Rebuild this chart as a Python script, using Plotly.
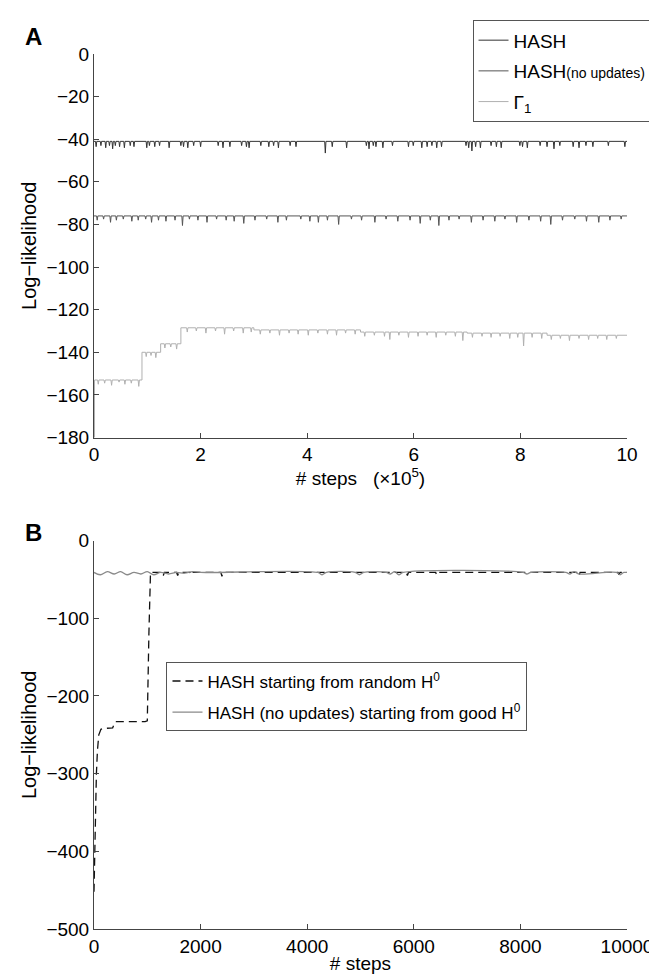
import plotly.graph_objects as go

# ---------------- Panel A data (x in units of 1e5 steps) ----------------
hash_level_x = [0.0]
hash_level_y = [-41]
hash_spike_x = [0.04, 0.13, 0.22, 0.29, 0.35, 0.40, 0.48, 0.57, 0.68, 0.75,
                0.99, 1.04, 1.14, 1.23, 1.41, 1.63, 1.68, 1.76, 1.87, 2.00,
                2.33, 2.42, 2.55, 2.77, 2.86, 2.91, 3.13, 3.28, 3.37, 3.46,
                3.68, 3.79, 4.34, 4.47, 4.74, 5.11, 5.16, 5.24, 5.29, 5.42,
                5.60, 5.90, 5.99, 6.15, 6.25, 6.34, 6.43, 6.52, 6.98, 7.03,
                7.09, 7.16, 7.25, 7.45, 7.55, 7.64, 7.99, 8.04, 8.13, 8.37,
                8.50, 8.63, 8.74, 8.99, 9.10, 9.23, 9.36, 9.65, 9.96]
hash_spike_y = [-43.5, -43, -44, -43, -44.5, -43, -43.5, -44, -43, -43.5,
                -44, -43, -43.5, -43, -44, -43, -43.5, -44, -43, -43.5,
                -43, -44, -43.5, -43, -43.5, -44, -43, -43.5, -43, -44,
                -43, -43.5, -46.5, -43.5, -44, -43, -44.5, -43, -43.5, -44,
                -43, -43.5, -43, -44, -43.5, -43, -44, -43.5, -43, -44,
                -45.5, -43.5, -44, -43, -43.5, -44, -43, -43.5, -44, -43,
                -43.5, -44.5, -43, -43.5, -44, -43, -43.5, -43, -43.5]

noupd_level_x = [0.0]
noupd_level_y = [-76]
noupd_spike_x = [0.06, 0.18, 0.31, 0.42, 0.55, 0.71, 0.83, 0.97, 1.08, 1.21,
                 1.35, 1.52, 1.66, 1.79, 1.95, 2.12, 2.30, 2.48, 2.63, 2.81,
                 3.02, 3.24, 3.45, 3.61, 3.88, 4.05, 4.21, 4.38, 4.59, 4.83,
                 5.02, 5.27, 5.48, 5.70, 5.93, 6.12, 6.31, 6.47, 6.66, 6.85,
                 7.08, 7.30, 7.52, 7.71, 7.93, 8.16, 8.38, 8.57, 8.79, 9.02,
                 9.24, 9.47, 9.68, 9.89]
noupd_spike_y = [-78, -77.5, -79, -78, -77.5, -78.5, -78, -77.5, -79, -78,
                 -78.5, -78, -80.5, -77.5, -78, -79, -77.5, -78, -78.5, -79.5,
                 -78, -77.5, -79, -78, -77.5, -78.5, -79, -78, -80, -77.5,
                 -78, -79, -77.5, -78.5, -78, -79.5, -78, -80.5, -78, -77.5,
                 -79, -78, -78.5, -77.5, -79, -78, -78.5, -80, -78, -77.5,
                 -78.5, -79, -78, -77.5]

gamma_level_x = [0.0, 0.01, 0.90, 1.25, 1.63, 3.0, 5.0, 7.0, 8.5]
gamma_level_y = [-180, -153, -140, -136, -128.5, -129.5, -130.5, -131, -132]
gamma_spike_x = [0.08, 0.20, 0.33, 0.47, 0.58, 0.70, 0.84,
                 0.98, 1.07, 1.16, 1.33, 1.44, 1.55,
                 1.75, 1.92, 2.10, 2.28, 2.45, 2.62, 2.80, 2.95,
                 3.12, 3.30, 3.48, 3.66, 3.83, 4.02, 4.20, 4.38, 4.55, 4.72, 4.90,
                 5.08, 5.26, 5.45, 5.55, 5.72, 5.90, 6.08, 6.25, 6.42, 6.60, 6.78, 6.92,
                 7.10, 7.28, 7.45, 7.62, 7.80, 7.95, 8.06, 8.22, 8.40,
                 8.58, 8.75, 8.92, 9.10, 9.28, 9.45, 9.62, 9.80]
gamma_spike_y = [-155, -154.5, -155.5, -154, -155, -154.5, -156,
                 -142, -141.5, -142.5, -138, -137.5, -138.5,
                 -130.5, -130, -131, -130, -131.5, -130, -131, -130.5,
                 -131.5, -131, -132, -131, -131.5, -132, -131, -131.5, -132, -131, -131.5,
                 -132.5, -132, -132.5, -134, -132, -133, -132.5, -132, -133, -132, -132.5, -134.5,
                 -133, -132.5, -133, -132.5, -133.5, -133, -137, -133, -133.5,
                 -134, -133.5, -134.5, -133.5, -134, -133.5, -134, -133.5]

# ---------------- Panel B data (x in steps) ----------------
rand_x = [0, 8, 18, 30, 45, 65, 90, 130, 170, 350, 400, 960, 1000, 1030, 1060,
          1280, 1300, 1320, 1550, 1570, 1590, 1800, 1820, 1840, 2380, 2400, 2420,
          5860, 5880, 5900, 6410, 6430, 6450, 9080, 9100, 9120, 9830, 9850, 9870, 10000]
rand_y = [-452, -420, -380, -340, -300, -270, -250, -243, -242, -241, -233, -233, -232, -120, -41,
          -41, -45, -41, -41, -45, -41, -41, -44, -41, -41, -46, -41,
          -41, -45, -41, -41, -44, -41, -41, -45, -41, -41, -44, -41, -41]

good_x = [0, 120, 250, 380, 500, 620, 750, 880, 1000, 1120, 1250, 1400, 1550, 1700, 1850, 2000,
          4200, 4280, 4360, 4900, 4980, 5060, 5480, 5560, 5640, 5720, 5800,
          8050, 8120, 8200, 8850, 8930, 9010, 9090, 9800, 9870, 9940, 10000]
good_y = [-41, -44, -40, -43, -40, -44, -41, -43, -40, -44, -41, -43, -41, -42, -40, -41,
          -41, -44, -41, -41, -44, -41, -41, -43, -40, -44, -41,
          -41, -43, -41, -41, -43, -40, -43, -41, -44, -41, -41]


def steps_with_spikes(level_x, level_y, x_end, sx, sy, hw):
    pts = []
    for i, (x0, y0) in enumerate(zip(level_x, level_y)):
        x1 = level_x[i + 1] if i + 1 < len(level_x) else x_end
        pts.append((x0, y0))
        for xs, ys in zip(sx, sy):
            if x0 < xs < x1:
                pts += [(xs - hw, y0), (xs, ys), (xs + hw, y0)]
        pts.append((x1, y0))
    xs_, ys_ = zip(*pts)
    return list(xs_), list(ys_)


FONT = "Liberation Sans, Arial, Helvetica, sans-serif"
NB = "\u00a0"

fig = go.Figure()

hx, hy = steps_with_spikes(hash_level_x, hash_level_y, 10, hash_spike_x, hash_spike_y, 0.012)
nx, ny = steps_with_spikes(noupd_level_x, noupd_level_y, 10, noupd_spike_x, noupd_spike_y, 0.012)
gx, gy = steps_with_spikes(gamma_level_x, gamma_level_y, 10, gamma_spike_x, gamma_spike_y, 0.012)

fig.add_trace(go.Scatter(x=hx, y=hy, mode="lines", name="HASH",
                         line=dict(color="#333333", width=1),
                         xaxis="x", yaxis="y", legend="legend", legendgroup="a1"))
fig.add_trace(go.Scatter(x=nx, y=ny, mode="lines",
                         name="HASH<span style='font-size:14px'>(no updates)</span>",
                         line=dict(color="#555555", width=1),
                         xaxis="x", yaxis="y", legend="legend", legendgroup="a2"))
fig.add_trace(go.Scatter(x=gx, y=gy, mode="lines", name="Γ<sub>1</sub>",
                         line=dict(color="#b0b0b0", width=1),
                         xaxis="x", yaxis="y", legend="legend", legendgroup="a3"))

fig.add_trace(go.Scatter(x=rand_x, y=rand_y, mode="lines",
                         name="HASH starting from random H<sup>0</sup>",
                         line=dict(color="#111111", width=1.3, dash="8px,5px"),
                         xaxis="x2", yaxis="y2", legend="legend2", legendgroup="b1"))
fig.add_trace(go.Scatter(x=good_x, y=good_y, mode="lines",
                         name="HASH (no updates) starting from good H<sup>0</sup>",
                         line=dict(color="#8a8a8a", width=1.3, shape="spline", smoothing=1),
                         xaxis="x2", yaxis="y2", legend="legend2", legendgroup="b2"))

axis_common = dict(showline=True, linecolor="#444", linewidth=1, ticks="inside",
                   ticklen=5, tickcolor="#444", showgrid=False, zeroline=False,
                   mirror=False, tickfont=dict(size=19, color="black", family=FONT))

top_dom = [0.5617, 1.0]
bot_dom = [0.0, 0.4439]

fig.update_layout(
    width=657, height=974,
    margin=dict(l=86, r=27, t=44, b=47),
    paper_bgcolor="white", plot_bgcolor="white",
    font=dict(family=FONT, color="black", size=19),
    xaxis=dict(domain=[0, 1], anchor="y", range=[0, 10], dtick=2,
               title=dict(text="# steps" + NB * 3 + "(×10<sup>5</sup>)", font=dict(size=19), standoff=4),
               **axis_common),
    yaxis=dict(domain=top_dom, anchor="x", range=[-180, 0], dtick=20,
               title=dict(text="Log−likelihood", font=dict(size=20), standoff=4),
               **axis_common),
    xaxis2=dict(domain=[0, 1], anchor="y2", range=[0, 10000], dtick=2000, tickformat="d",
                title=dict(text="# steps", font=dict(size=19), standoff=0),
                **axis_common),
    yaxis2=dict(domain=bot_dom, anchor="x2", range=[-500, 0], dtick=100,
                title=dict(text="Log−likelihood", font=dict(size=20), standoff=4),
                **axis_common),
    legend=dict(x=1.046, xanchor="right", y=1.0385, yanchor="top",
                bordercolor="#555", borderwidth=1, bgcolor="white",
                font=dict(size=19, family=FONT), tracegroupgap=3, itemwidth=30),
    legend2=dict(x=0.136, xanchor="left", y=0.3046, yanchor="top",
                 bordercolor="#555", borderwidth=1, bgcolor="white",
                 font=dict(size=17, family=FONT), tracegroupgap=6, itemwidth=30),
    showlegend=True,
    annotations=[
        dict(text="<b>A</b>", x=-0.114, y=1.0204, xref="paper", yref="paper",
             showarrow=False, font=dict(size=24, family=FONT), xanchor="center", yanchor="middle"),
        dict(text="<b>B</b>", x=-0.114, y=0.453, xref="paper", yref="paper",
             showarrow=False, font=dict(size=24, family=FONT), xanchor="center", yanchor="middle"),
    ],
)

fig.write_html("out.html")
